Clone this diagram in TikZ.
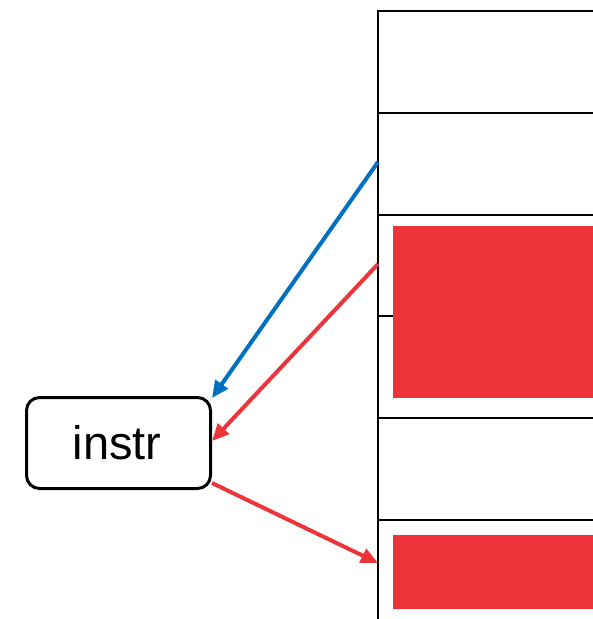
\documentclass[tikz,border=0pt]{standalone}
\usepackage{fontspec}
\setmainfont{Liberation Sans}
\usetikzlibrary{arrows.meta}
\definecolor{memred}{RGB}{238,52,59}
\definecolor{ptrblue}{RGB}{0,112,192}
\begin{document}
\begin{tikzpicture}[x=1pt,y=-1pt,
  grid/.style={line width=2.8pt,black},
  slot/.style={fill=memred,draw=none},
  instrbox/.style={draw=black,line width=3pt,rounded corners=13pt,minimum width=184pt,minimum height=91pt,inner sep=0pt,font=\fontsize{47}{52}\selectfont},
  ptr/.style={line width=4pt,-{Triangle[length=17pt,width=15pt]}},
]
\useasboundingbox (0,0) rectangle (593,619);
% memory column
\draw[grid] (378,619) -- (378,11) -- (593,11);
\foreach \yy in {113,215,316,418,520}
  \draw[grid] (378,\yy) -- (593,\yy);
% occupied slots
\fill[slot] (393,226) rectangle (593,398);
\fill[slot] (393,535) rectangle (593,609);
% instruction box
\node[instrbox] (instr) at (118.5,443) {};
\node[font=\fontsize{47}{52}\selectfont,inner sep=0pt] (instrlabel) at (117,443) {instr};
% pointer endpoints on the column
\coordinate (srcA) at (378,162);
\coordinate (srcB) at (378,264);
\coordinate (dstC) at (378,563);
\coordinate (tipA) at (212,398);
\coordinate (tipB) at (212,441);
\coordinate (outC) at (212,483);
\draw[ptr,ptrblue] (srcA) -- (tipA);
\draw[ptr,memred] (srcB) -- (tipB);
\draw[ptr,memred] (outC) -- (dstC);
\end{tikzpicture}
\end{document}
